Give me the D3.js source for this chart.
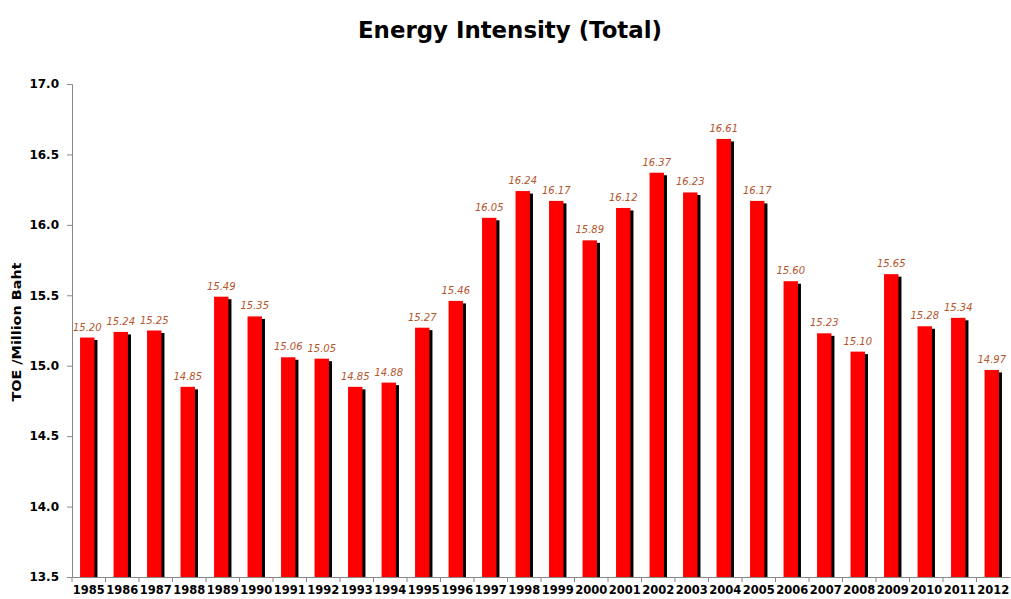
<!DOCTYPE html>
<html>
<head>
<meta charset="utf-8">
<script src="https://cdn.jsdelivr.net/npm/d3@7"></script>
<style>
  html, body { margin: 0; padding: 0; background: #fff; }
  svg { display: block; }
</style>
</head>
<body>
<svg id="chart" width="1011" height="599"></svg>
<script>
// Energy intensity, TOE per million Baht, 1985-2012
const years = ["1985","1986","1987","1988","1989","1990","1991","1992","1993","1994",
  "1995","1996","1997","1998","1999","2000","2001","2002","2003","2004",
  "2005","2006","2007","2008","2009","2010","2011","2012"];
const intensity = [15.20,15.24,15.25,14.85,15.49,15.35,15.06,15.05,14.85,14.88,
  15.27,15.46,16.05,16.24,16.17,15.89,16.12,16.37,16.23,16.61,
  16.17,15.60,15.23,15.10,15.65,15.28,15.34,14.97];
const yTicks = [13.5,14.0,14.5,15.0,15.5,16.0,16.5,17.0];

const svg = d3.select("#chart");
const margin = { left: 72, right: 1, top: 84, bottom: 22 };
const W = 1011, H = 599;

const x = d3.scaleBand().domain(years).range([margin.left, W - margin.right]).paddingInner(0).paddingOuter(0);
const y = d3.scaleLinear().domain([13.5, 17.0]).range([H - margin.bottom, margin.top]);

const bw = x.bandwidth();
const barW = bw * 0.43;
const barOff = (bw - barW) / 2 - 1.5;

// title
svg.append("text")
  .attr("x", 510).attr("y", 38)
  .attr("text-anchor", "middle")
  .style("font-family", "'DejaVu Sans', sans-serif")
  .style("font-weight", "bold")
  .style("font-size", "23px")
  .attr("textLength", 304)
  .attr("lengthAdjust", "spacingAndGlyphs")
  .attr("fill", "#000")
  .text("Energy Intensity (Total)");

// y axis title
svg.append("text")
  .attr("transform", "translate(21,332) rotate(-90)")
  .attr("text-anchor", "middle")
  .style("font-family", "'DejaVu Sans', sans-serif")
  .style("font-weight", "bold")
  .style("font-size", "13px")
  .attr("textLength", 139)
  .attr("lengthAdjust", "spacingAndGlyphs")
  .text("TOE /Million Baht");

// bars: black drop shadow under red bar
const g = svg.append("g");
g.selectAll("rect.shadow").data(intensity).join("rect")
  .attr("class", "shadow")
  .attr("x", (d, i) => x(years[i]) + barOff + 3)
  .attr("y", d => y(d) + 2.5)
  .attr("width", barW)
  .attr("height", d => y(13.5) - y(d) - 2.5)
  .attr("fill", "#000");
g.selectAll("rect.bar").data(intensity).join("rect")
  .attr("class", "bar")
  .attr("x", (d, i) => x(years[i]) + barOff)
  .attr("y", d => y(d))
  .attr("width", barW)
  .attr("height", d => y(13.5) - y(d))
  .attr("fill", "#ff0000");

// value labels
g.selectAll("text.val").data(intensity).join("text")
  .attr("class", "val")
  .attr("x", (d, i) => x(years[i]) + barOff + barW / 2)
  .attr("y", d => y(d) - 7)
  .attr("text-anchor", "middle")
  .style("font-family", "'DejaVu Sans', sans-serif")
  .style("font-style", "italic")
  .style("font-size", "10px")
  .attr("fill", "#b4552c")
  .text(d => d.toFixed(2));

// y axis
const yAxis = svg.append("g")
  .attr("transform", `translate(${margin.left},0)`)
  .call(d3.axisLeft(y).tickValues(yTicks).tickFormat(d3.format(".1f")).tickSize(5).tickPadding(8));
yAxis.select(".domain").attr("stroke", "#888");
yAxis.selectAll(".tick line").attr("stroke", "#888");
yAxis.selectAll("text")
  .style("font-family", "'DejaVu Sans', sans-serif")
  .style("font-weight", "bold")
  .style("font-size", "12px")
  .attr("fill", "#000");

// x axis
const xAxis = svg.append("g")
  .attr("transform", `translate(0,${H - margin.bottom})`)
  .call(d3.axisBottom(x).tickSize(0).tickPadding(9));
xAxis.select(".domain").attr("stroke", "#888");
xAxis.selectAll("text")
  .style("font-family", "'DejaVu Sans', sans-serif")
  .style("font-weight", "bold")
  .style("font-size", "11.5px")
  .attr("fill", "#000");
// category boundary ticks
xAxis.selectAll("line.sep").data(years).join("line")
  .attr("class", "sep")
  .attr("x1", d => x(d)).attr("x2", d => x(d))
  .attr("y1", 0).attr("y2", 5)
  .attr("stroke", "#888");
</script>
</body>
</html>
